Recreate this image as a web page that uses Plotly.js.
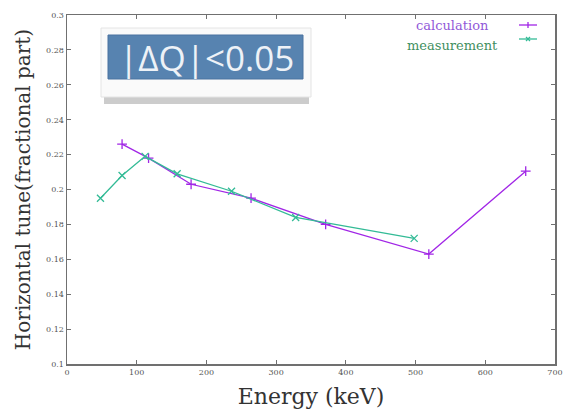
<!DOCTYPE html>
<html>
<head>
<meta charset="utf-8">
<script src="https://cdn.plot.ly/plotly-3.0.1.min.js"></script>
<style>html,body{margin:0;padding:0;background:#fff;}#chart{width:566px;height:409px;}</style>
</head>
<body>
<div id="chart"></div>
<script>
// Data
const calcEnergy = [79, 117, 178, 264, 371, 519, 658];
const calcTune   = [0.226, 0.218, 0.203, 0.195, 0.180, 0.163, 0.2105];
const measEnergy = [48, 79, 112, 158, 236, 328, 498];
const measTune   = [0.195, 0.208, 0.219, 0.209, 0.199, 0.184, 0.172];
const xTicks = [0, 100, 200, 300, 400, 500, 600, 700];
const yTicks = [0.1, 0.12, 0.14, 0.16, 0.18, 0.2, 0.22, 0.24, 0.26, 0.28, 0.3];
const seriesNames = ['calculation', 'measurement'];
const insetText = '|\u0394Q|<0.05';

const W = 566, H = 409;
const M = {l: 67, r: 11, t: 15, b: 45};
const pw = W - M.l - M.r, ph = H - M.t - M.b;
const px = x => (x - M.l) / pw;
const py = y => (H - M.b - y) / ph;

const calcColor = '#a126e6';
const measColor = '#33bb96';

const traces = [
  {x: calcEnergy, y: calcTune, name: seriesNames[0], mode: 'lines+markers', type: 'scatter',
   line: {color: calcColor, width: 1.3}, marker: {symbol: 'cross-thin', size: 7, line: {color: calcColor, width: 1.3}}},
  {x: measEnergy, y: measTune, name: seriesNames[1], mode: 'lines+markers', type: 'scatter',
   line: {color: measColor, width: 1.3}, marker: {symbol: 'x-thin', size: 7, line: {color: measColor, width: 1.3}}}
];

const axisCommon = {
  showgrid: false, zeroline: false, showline: true, linecolor: '#707070', linewidth: 1.5,
  mirror: 'ticks', ticks: 'inside', ticklen: 4, tickcolor: '#707070', tickwidth: 1,
  tickfont: {family: 'DejaVu Serif, serif', size: 8, color: '#555'}
};

const shapes = [
  // inset shadow
  {type: 'rect', xref: 'paper', yref: 'paper', x0: px(104), x1: px(309), y0: py(104), y1: py(92),
   fillcolor: 'rgba(110,110,110,0.35)', line: {width: 0}, layer: 'above'},
  // inset white frame
  {type: 'rect', xref: 'paper', yref: 'paper', x0: px(101), x1: px(311), y0: py(97), y1: py(28),
   fillcolor: '#fafafa', line: {color: '#e4e4e4', width: 1}, layer: 'above'},
  // inset blue panel
  {type: 'rect', xref: 'paper', yref: 'paper', x0: px(108), x1: px(303), y0: py(79), y1: py(35),
   fillcolor: '#5783b0', line: {color: '#4a72a0', width: 1}, layer: 'above'},
  // legend samples
  {type: 'line', xref: 'paper', yref: 'paper', x0: px(519), x1: px(537), y0: py(25), y1: py(25),
   line: {color: calcColor, width: 1.3}},
  {type: 'line', xref: 'paper', yref: 'paper', x0: px(528), x1: px(528), y0: py(22), y1: py(28),
   line: {color: calcColor, width: 1.3}},
  {type: 'line', xref: 'paper', yref: 'paper', x0: px(519), x1: px(537), y0: py(39), y1: py(39),
   line: {color: measColor, width: 1.3}},
  {type: 'line', xref: 'paper', yref: 'paper', x0: px(526), x1: px(530), y0: py(37), y1: py(41),
   line: {color: measColor, width: 1.3}},
  {type: 'line', xref: 'paper', yref: 'paper', x0: px(526), x1: px(530), y0: py(41), y1: py(37),
   line: {color: measColor, width: 1.3}}
];

const annotations = [
  {xref: 'paper', yref: 'paper', x: px(206), y: py(58), text: insetText, showarrow: false,
   xanchor: 'center', yanchor: 'middle',
   font: {family: 'Open Sans, Lato, sans-serif', size: 35, color: '#eef2f7'}},
  {xref: 'paper', yref: 'paper', x: px(491), y: py(25), text: seriesNames[0], showarrow: false,
   xanchor: 'right', yanchor: 'middle', font: {family: 'DejaVu Serif, serif', size: 13, color: '#9158d8'}},
  {xref: 'paper', yref: 'paper', x: px(500), y: py(45), text: seriesNames[1], showarrow: false,
   xanchor: 'right', yanchor: 'middle', font: {family: 'DejaVu Serif, serif', size: 13, color: '#3f8f5f'}}
];

const layout = {
  width: W, height: H, margin: M, paper_bgcolor: '#fff', plot_bgcolor: '#fff', showlegend: false,
  xaxis: Object.assign({}, axisCommon, {range: [0, 700], tickvals: xTicks,
    title: {text: 'Energy (keV)', standoff: 12, font: {family: 'DejaVu Serif, serif', size: 22, color: '#333'}}}),
  yaxis: Object.assign({}, axisCommon, {range: [0.1, 0.3], tickvals: yTicks,
    title: {text: 'Horizontal tune(fractional part)', standoff: 10, font: {family: 'DejaVu Serif, serif', size: 20, color: '#333'}}}),
  shapes: shapes, annotations: annotations
};

Plotly.newPlot('chart', traces, layout, {displayModeBar: false, staticPlot: true});
</script>
</body>
</html>
